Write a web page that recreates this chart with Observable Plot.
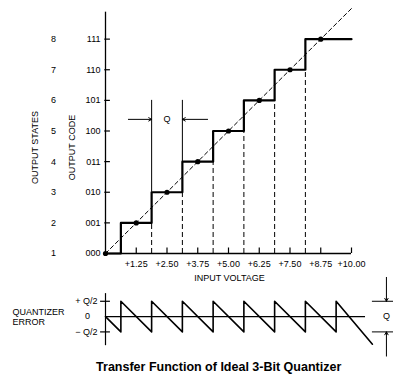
<!DOCTYPE html>
<html>
<head>
<meta charset="utf-8">
<script src="https://cdn.jsdelivr.net/npm/d3@7"></script>
<script src="https://cdn.jsdelivr.net/npm/@observablehq/plot@0.6"></script>
<style>
  html, body { margin: 0; padding: 0; background: #fff; }
  #chart { width: 393px; height: 379px; }
</style>
</head>
<body>
<div id="chart"></div>
<script>
// ---- data ----
const codeLabels = ["000", "001", "010", "011", "100", "101", "110", "111"];
const codeValues = [0, 1, 2, 3, 4, 5, 6, 7];
const stateLabels = ["1", "2", "3", "4", "5", "6", "7", "8"];
const voltTicks = [1.25, 2.5, 3.75, 5.0, 6.25, 7.5, 8.75, 10.0];
const voltLabels = ["+1.25", "+2.50", "+3.75", "+5.00", "+6.25", "+7.50", "+8.75", "+10.00"];

// staircase (step-after): input voltage at each transition, output code
const stepVolt = [0, 0.625, 1.875, 3.125, 4.375, 5.625, 6.875, 8.125, 10];
const stepCode = [0, 1, 2, 3, 4, 5, 6, 7, 7];
// ideal (analog) line
const idealVolt = [0, 10];
const idealCode = [0, 8];
// midpoint dots
const dotVolt = [0, 1.25, 2.5, 3.75, 5.0, 6.25, 7.5, 8.75];
const dotCode = [0, 1, 2, 3, 4, 5, 6, 7];
// dashed drop lines under each riser
const dropVolt = [1.875, 3.125, 4.375, 5.625, 6.875, 8.125];
const dropCode = [1, 2, 3, 4, 5, 6];
// quantizer error sawtooth (in units of Q)
const errVolt = [0, 0.625, 0.625, 1.875, 1.875, 3.125, 3.125, 4.375, 4.375, 5.625, 5.625, 6.875, 6.875, 8.125, 8.125, 9.375, 9.375, 10.85];
const errQ    = [0, -0.5, 0.5, -0.5, 0.5, -0.5, 0.5, -0.5, 0.5, -0.5, 0.5, -0.5, 0.5, -0.5, 0.5, -0.5, 0.5, -0.9];
const errTickQ = [0.5, 0, -0.5];
const errTickLabels = ["+ Q/2", "0", "\u2212 Q/2"];

// ---- layout helpers ----
const errBase = -2.06;   // vertical offset of the error plot (in code units)
const errY = q => errBase + q;

const stepData = stepVolt.map((v, i) => ({v, c: stepCode[i]}));
const idealData = idealVolt.map((v, i) => ({v, c: idealCode[i]}));
const dotData = dotVolt.map((v, i) => ({v, c: dotCode[i]}));
const dropData = dropVolt.map((v, i) => ({v, c: dropCode[i]}));
const errData = errVolt.map((v, i) => ({v, c: errY(errQ[i])}));
const codeData = codeValues.map((c, i) => ({c, code: codeLabels[i], state: stateLabels[i]}));
const tickData = voltTicks.map((v, i) => ({v, label: voltLabels[i]}));
const errTickData = errTickQ.map((q, i) => ({c: errY(q), label: errTickLabels[i], q}));

const font = '"Liberation Sans", Arial, Helvetica, sans-serif';

const chart = Plot.plot({
  width: 393,
  height: 379,
  margin: 0,
  x: {domain: [0, 10], range: [105, 351], axis: null},
  y: {domain: [0, 8], range: [253, 8], axis: null},
  style: {fontFamily: font, fontSize: "9px", color: "#000", background: "#fff", overflow: "visible"},
  marks: [
    // axes
    Plot.ruleX([0], {y1: 0, y2: 7.88, stroke: "#000", strokeWidth: 1.3}),
    Plot.ruleY([0], {x1: 0, x2: 10, stroke: "#000", strokeWidth: 1.3}),
    Plot.ruleY(codeData.filter(d => d.c > 0), {y: "c", x1: -0.03, x2: 0.2, stroke: "#000", strokeWidth: 1.2}),
    Plot.ruleX(tickData, {x: "v", y1: 0, y2: 0.18, stroke: "#000", strokeWidth: 1.2}),
    // labels of axes
    Plot.text(codeData, {x: 0, y: "c", text: "code", textAnchor: "end", dx: -5, fontSize: 9}),
    Plot.text(codeData, {x: -2.11, y: "c", text: "state", textAnchor: "middle", fontSize: 9}),
    Plot.text(tickData, {x: "v", y: 0, text: "label", dy: 11, textAnchor: "middle", fontSize: 9}),
    Plot.text(["INPUT VOLTAGE"], {x: 5.04, y: -0.8, textAnchor: "middle", fontSize: 9}),
    Plot.text(["OUTPUT STATES"], {x: -2.85, y: 3.46, rotate: -90, textAnchor: "middle", fontSize: 9}),
    Plot.text(["OUTPUT CODE"], {x: -1.36, y: 3.46, rotate: -90, textAnchor: "middle", fontSize: 9}),
    // dashed drop lines
    Plot.ruleX(dropData, {x: "v", y1: 0, y2: "c", stroke: "#000", strokeWidth: 1, strokeDasharray: "5,3"}),
    // Q dimension
    Plot.ruleX([1.875], {y1: 2, y2: 5.0, stroke: "#000", strokeWidth: 1}),
    Plot.ruleX([3.125], {y1: 3, y2: 5.0, stroke: "#000", strokeWidth: 1}),
    Plot.arrow([{x1: 0.93, x2: 1.875}, {x1: 4.15, x2: 3.125}], {x1: "x1", x2: "x2", y1: 4.38, y2: 4.38, headLength: 5, strokeWidth: 1, stroke: "#000"}),
    Plot.text(["Q"], {x: 2.5, y: 4.38, textAnchor: "middle", fontSize: 9}),
    // ideal line
    Plot.line(idealData, {x: "v", y: "c", stroke: "#000", strokeWidth: 1, strokeDasharray: "4,3"}),
    // staircase
    Plot.line(stepData, {x: "v", y: "c", curve: "step-after", stroke: "#000", strokeWidth: 2.2}),
    Plot.dot(dotData, {x: "v", y: "c", r: 2.6, fill: "#000", stroke: null}),

    // ---- quantizer error plot ----
    Plot.ruleX([0], {y1: errY(0.75), y2: errY(-0.95), stroke: "#000", strokeWidth: 1.2}),
    Plot.ruleY(errTickData.filter(d => d.q !== 0), {y: "c", x1: -0.2, x2: 0.2, stroke: "#000", strokeWidth: 1.2}),
    Plot.ruleY([errY(0)], {x1: 0, x2: 10.57, stroke: "#000", strokeWidth: 1.1}),
    Plot.text(errTickData.filter(d => d.q !== 0), {x: 0, y: "c", text: "label", textAnchor: "end", dx: -8, fontSize: 9}),
    Plot.text(errTickData.filter(d => d.q === 0), {x: -0.73, y: "c", text: "label", textAnchor: "middle", fontSize: 9}),
    Plot.text(["QUANTIZER\nERROR"], {x: -3.78, y: errY(0), textAnchor: "start", lineHeight: 1.15, fontSize: 9}),
    Plot.line(errData, {x: "v", y: "c", stroke: "#000", strokeWidth: 1.6}),
    // right Q dimension
    Plot.ruleY([errY(0.5), errY(-0.5)], {x1: 10.85, x2: 11.75, stroke: "#000", strokeWidth: 1}),
    Plot.arrow([{y1: -0.78, y2: errY(0.5)}, {y1: -3.35, y2: errY(-0.5)}], {x1: 11.42, x2: 11.42, y1: "y1", y2: "y2", headLength: 5, strokeWidth: 1, stroke: "#000"}),
    Plot.text(["Q"], {x: 11.42, y: errY(0), textAnchor: "middle", fontSize: 9}),

    // title
    Plot.text(["Transfer Function of Ideal 3-Bit Quantizer"], {x: 4.6, y: -3.69, textAnchor: "middle", fontSize: 12.5, fontWeight: "bold"})
  ]
});
document.getElementById("chart").appendChild(chart);
</script>
</body>
</html>
